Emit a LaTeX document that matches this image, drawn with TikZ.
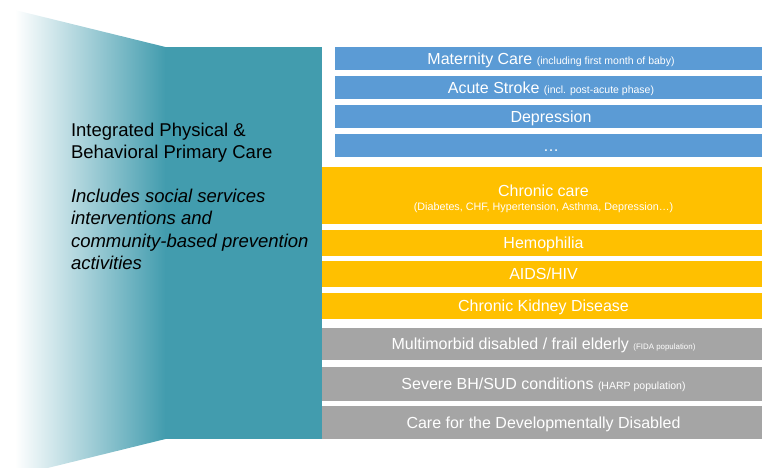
\documentclass[tikz,border=0pt]{standalone}
\usepackage{fontspec}
\setmainfont{Liberation Sans}
\definecolor{tealb}{HTML}{429CAE}
\definecolor{blueb}{HTML}{5B9BD5}
\definecolor{yellowb}{HTML}{FFC000}
\definecolor{grayb}{HTML}{A5A5A5}
\begin{document}
\begin{tikzpicture}[x=1pt,y=-1pt,
  bar/.style={inner sep=0pt, outer sep=0pt, text=white,
    font=\fontsize{16}{19}\selectfont, text height=11.4pt, text depth=0pt},
  bluebar/.style={bar, fill=blueb, minimum width=432pt},
  yelbar/.style={bar, fill=yellowb, minimum width=443pt},
  graybar/.style={bar, fill=grayb, minimum width=443pt},
  bartext/.style={inner sep=0pt, outer sep=0pt, text=white, anchor=base},
  lefttext/.style={inner sep=0pt, outer sep=0pt, text=black, anchor=base west, align=left}
]
\useasboundingbox (0,0) rectangle (762,467);
\clip (0,0) rectangle (762,467);
% left funnel shape
\shade[left color=white, right color=tealb] (15,10) -- (165.5,47) -- (165.5,439) -- (15,476) -- cycle;
\fill[tealb] (165,47) rectangle (322,439);
% left texts (base anchor = baseline of last line)
\node[lefttext, font=\fontsize{18.5}{21.6}\selectfont] (title) at (71,158.3)
  {Integrated Physical \&\\Behavioral Primary Care};
\node[lefttext, font=\fontsize{18.5}{22.2}\selectfont\itshape] (body) at (71,269.3)
  {Includes social services\\interventions and\\community-based prevention\\activities};
% blue bars
\node[bluebar, minimum height=23.3pt] (mat) at (551,58.35)
  {Maternity Care {\fontsize{10.5}{12}\selectfont (including first month of baby)}};
\node[bluebar, minimum height=23.3pt] (str) at (551,87.35)
  {Acute Stroke {\fontsize{10.5}{12}\selectfont (incl. post-acute phase)}};
\node[bluebar, minimum height=23.3pt] (dep) at (551,116.65) {Depression};
\node[bluebar, minimum height=23.3pt] (etc) at (551,145.65) {\dots};
% yellow bars
\node[yelbar, minimum height=56.7pt] (chr) at (543.5,195.65) {};
\node[bartext, font=\fontsize{16}{19}\selectfont] (chrt) at (543.5,196.7) {Chronic care};
\node[bartext, font=\fontsize{10.75}{12}\selectfont] (chrs) at (543.5,210.7)
  {(Diabetes, CHF, Hypertension, Asthma, Depression…)};
\node[yelbar, minimum height=26pt] (hem) at (543.5,243) {Hemophilia};
\node[yelbar, minimum height=26pt] (aid) at (543.5,273.7) {AIDS/HIV};
\node[yelbar, minimum height=26.3pt] (ckd) at (543.5,305.85) {Chronic Kidney Disease};
% gray bars
\node[graybar, minimum height=32.3pt] (fida) at (543.5,343.85)
  {Multimorbid disabled / frail elderly {\fontsize{7.9}{9}\selectfont (FIDA population)}};
\node[graybar, minimum height=34.3pt] (harp) at (543.5,383.85)
  {Severe BH/SUD conditions {\fontsize{10.5}{12}\selectfont (HARP population)}};
\node[graybar, minimum height=33.3pt] (dd) at (543.5,422.35)
  {Care for the Developmentally Disabled};
\end{tikzpicture}
\end{document}
